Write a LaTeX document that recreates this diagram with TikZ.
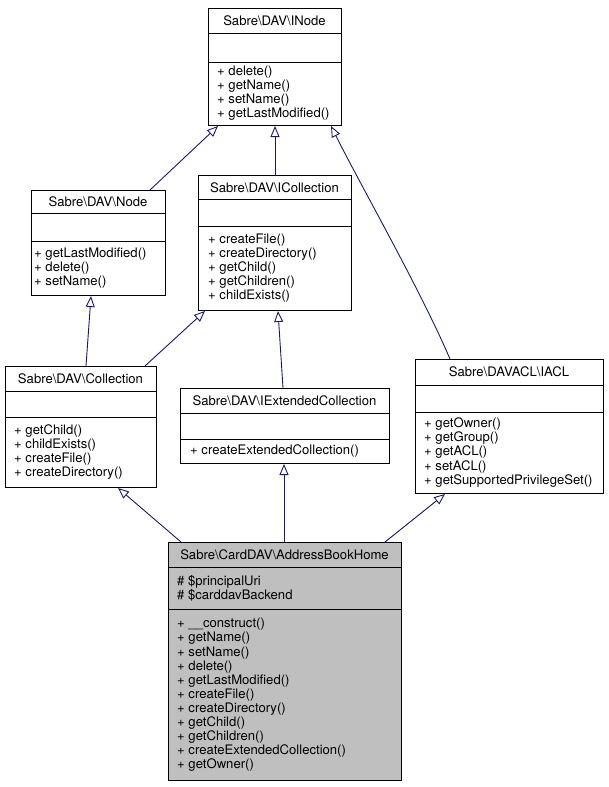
\documentclass[tikz,border=0pt]{standalone}
\usepackage{fontspec}
\setmainfont{TeX Gyre Heros}
\usetikzlibrary{arrows.meta}
\definecolor{edgeblue}{HTML}{191970}
\definecolor{hlgray}{HTML}{BFBFBF}
\tikzset{
  cls/.style={draw=black, line width=1pt, fill=white, inner sep=0pt, anchor=north west},
  clshl/.style={cls, fill=hlgray},
  sepline/.style={draw=black, line width=1pt},
  ttl/.style={inner sep=0pt, font=\fontsize{13.1}{14.1}\selectfont},
  mem/.style={inner sep=0pt, anchor=west, align=left, font=\fontsize{13.1}{14.1}\selectfont},
  inh/.style={draw=edgeblue, line width=0.9pt, -{Triangle[open, length=11pt, width=9pt]}}
}
\begin{document}
\begin{tikzpicture}[x=1pt, y=-1pt]
\useasboundingbox (0,0) rectangle (609,787);
% INode
\node[cls, minimum width=133pt, minimum height=117pt] (inode) at (208,8) {};
\draw[sepline] (208,33) -- (341,33); \draw[sepline] (208,62) -- (341,62);
\node[ttl] (inode-t) at (274.5,21) {Sabre\textbackslash DAV\textbackslash INode};
\node[mem] (inode-m) at (217,93.5) {+ delete()\\+ getName()\\+ setName()\\+ getLastModified()};
% Node
\node[cls, minimum width=134pt, minimum height=105pt] (node) at (31,190) {};
\draw[sepline] (31,213) -- (165,213); \draw[sepline] (31,241) -- (165,241);
\node[ttl] (node-t) at (98,202) {Sabre\textbackslash DAV\textbackslash Node};
\node[mem] (node-m) at (34,268) {+ getLastModified()\\+ delete()\\+ setName()};
% ICollection
\node[cls, minimum width=153pt, minimum height=135pt] (icoll) at (198,175) {};
\draw[sepline] (198,199) -- (351,199); \draw[sepline] (198,226) -- (351,226);
\node[ttl] (icoll-t) at (274.5,187.5) {Sabre\textbackslash DAV\textbackslash ICollection};
\node[mem] (icoll-m) at (208,268) {+ createFile()\\+ createDirectory()\\+ getChild()\\+ getChildren()\\+ childExists()};
% Collection
\node[cls, minimum width=151pt, minimum height=121pt] (coll) at (5,366) {};
\draw[sepline] (5,391) -- (156,391); \draw[sepline] (5,417) -- (156,417);
\node[ttl] (coll-t) at (80.5,379) {Sabre\textbackslash DAV\textbackslash Collection};
\node[mem] (coll-m) at (14,452) {+ getChild()\\+ childExists()\\+ createFile()\\+ createDirectory()};
% IExtendedCollection
\node[cls, minimum width=209pt, minimum height=75pt] (iext) at (180,388) {};
\draw[sepline] (180,413) -- (389,413); \draw[sepline] (180,439) -- (389,439);
\node[ttl] (iext-t) at (284.5,401) {Sabre\textbackslash DAV\textbackslash IExtendedCollection};
\node[mem] (iext-m) at (190,451) {+ createExtendedCollection()};
% IACL
\node[cls, minimum width=188pt, minimum height=134pt] (iacl) at (415,359) {};
\draw[sepline] (415,385) -- (603,385); \draw[sepline] (415,412) -- (603,412);
\node[ttl] (iacl-t) at (509,372) {Sabre\textbackslash DAVACL\textbackslash IACL};
\node[mem] (iacl-m) at (424,452.5) {+ getOwner()\\+ getGroup()\\+ getACL()\\+ setACL()\\+ getSupportedPrivilegeSet()};
% AddressBookHome
\node[clshl, minimum width=233pt, minimum height=238pt] (abh) at (168,542) {};
\draw[sepline] (168,567) -- (401,567); \draw[sepline] (168,609) -- (401,609);
\node[ttl] (abh-t) at (284.5,555) {Sabre\textbackslash CardDAV\textbackslash AddressBookHome};
\node[mem] (abh-a) at (177,588) {\# \$principalUri\\\# \$carddavBackend};
\node[mem] (abh-m) at (177,695) {+ \_\_construct()\\+ getName()\\+ setName()\\+ delete()\\+ getLastModified()\\+ createFile()\\+ createDirectory()\\+ getChild()\\+ getChildren()\\+ createExtendedCollection()\\+ getOwner()};
% edges
\draw[inh] ([xshift=119pt]node.north west) -- ([xshift=10pt]inode.south west);
\draw[inh] ([xshift=77pt]icoll.north west) -- ([xshift=67pt]inode.south west);
\draw[inh] ([xshift=35pt]iacl.north west) .. controls +(-30pt,70pt) and +(30pt,-60pt) .. ([xshift=123pt]inode.south west);
\draw[inh] ([xshift=81pt]coll.north west) -- ([xshift=60pt]node.south west);
\draw[inh] ([xshift=140pt]coll.north west) -- ([xshift=7pt]icoll.south west);
\draw[inh] ([xshift=103pt]iext.north west) -- ([xshift=80pt]icoll.south west);
\draw[inh] ([xshift=13pt]abh.north west) -- ([xshift=113pt]coll.south west);
\draw[inh] ([xshift=116pt]abh.north west) -- ([xshift=104pt]iext.south west);
\draw[inh] ([xshift=217pt]abh.north west) -- ([xshift=30pt]iacl.south west);
\end{tikzpicture}
\end{document}
